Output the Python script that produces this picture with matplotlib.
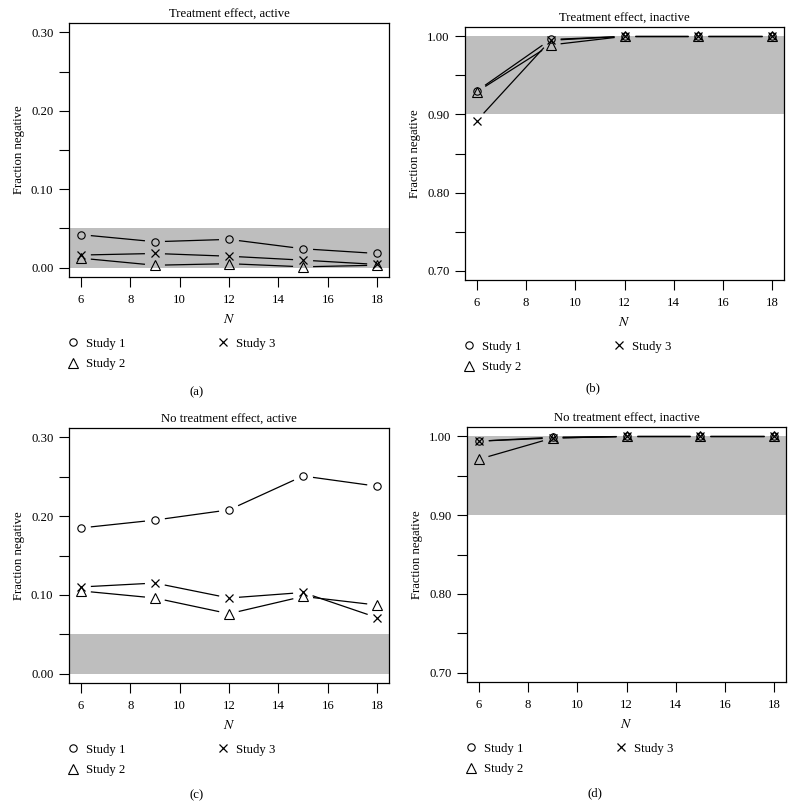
import numpy as np
import matplotlib
matplotlib.use("Agg")
import matplotlib.pyplot as plt
from matplotlib.lines import Line2D

plt.rcParams['font.family'] = ['Liberation Serif', 'DejaVu Serif']
plt.rcParams['mathtext.fontset'] = 'stix'

# ---------------- data ----------------
N = [6, 9, 12, 15, 18]
series_names = ["Study 1", "Study 2", "Study 3"]

# (a) Treatment effect, active
a_study1 = [0.042, 0.033, 0.036, 0.024, 0.018]
a_study2 = [0.012, 0.003, 0.005, 0.001, 0.003]
a_study3 = [0.016, 0.018, 0.0145, 0.0095, 0.004]

# (b) Treatment effect, inactive
b_study1 = [0.930, 0.996, 1.000, 1.000, 1.000]
b_study2 = [0.929, 0.989, 1.000, 1.000, 1.000]
b_study3 = [0.892, 0.995, 1.000, 1.000, 1.000]

# (c) No treatment effect, active
c_study1 = [0.185, 0.195, 0.208, 0.251, 0.238]
c_study2 = [0.105, 0.096, 0.076, 0.098, 0.087]
c_study3 = [0.110, 0.115, 0.096, 0.103, 0.071]

# (d) No treatment effect, inactive
d_study1 = [0.994, 0.999, 1.000, 1.000, 1.000]
d_study2 = [0.971, 0.998, 1.000, 1.000, 1.000]
d_study3 = [0.994, 0.998, 1.000, 1.000, 1.000]

titles = ["Treatment effect, active", "Treatment effect, inactive",
          "No treatment effect, active", "No treatment effect, inactive"]
panel_tags = ["(a)", "(b)", "(c)", "(d)"]

active_yticks = [0.00, 0.05, 0.10, 0.15, 0.20, 0.25, 0.30]
active_ylabels = ["0.00", "", "0.10", "", "0.20", "", "0.30"]
inactive_yticks = [0.70, 0.75, 0.80, 0.85, 0.90, 0.95, 1.00]
inactive_ylabels = ["0.70", "", "0.80", "", "0.90", "", "1.00"]
xticks = [6, 8, 10, 12, 14, 16, 18]

active_band = (0.0, 0.05)
inactive_band = (0.90, 1.00)

# ---------------- layout ----------------
W, H = 795, 807
fig = plt.figure(figsize=(W / 100, H / 100), dpi=100)
FS = 9.2


def px_axes(left, top, right, bottom):
    return fig.add_axes([left / W, 1 - bottom / H, (right - left) / W, (bottom - top) / H])


panels = [
    dict(box=(69, 23, 389, 277), data=(a_study1, a_study2, a_study3),
         yt=active_yticks, yl=active_ylabels, band=active_band, tag_y=392),
    dict(box=(465, 27, 784, 280), data=(b_study1, b_study2, b_study3),
         yt=inactive_yticks, yl=inactive_ylabels, band=inactive_band, tag_y=388),
    dict(box=(69, 428, 389, 683), data=(c_study1, c_study2, c_study3),
         yt=active_yticks, yl=active_ylabels, band=active_band, tag_y=795),
    dict(box=(467, 427, 786, 682), data=(d_study1, d_study2, d_study3),
         yt=inactive_yticks, yl=inactive_ylabels, band=inactive_band, tag_y=793),
]

markers = [dict(marker='o', ms=5.3, mew=0.8),
           dict(marker='^', ms=7.2, mew=0.8),
           dict(marker='x', ms=6.0, mew=0.9)]

GAP = 10.0  # px gap between line ends and point centres (R type="b")


def gapped_line(ax, x, y):
    pts = ax.transData.transform(np.column_stack([x, y]))
    inv = ax.transData.inverted()
    for p0, p1 in zip(pts[:-1], pts[1:]):
        d = p1 - p0
        L = np.hypot(*d)
        if L <= 2 * GAP:
            continue
        u = d / L
        seg = inv.transform(np.array([p0 + u * GAP, p1 - u * GAP]))
        ax.plot(seg[:, 0], seg[:, 1], color='black', lw=0.9,
                solid_capstyle='butt', zorder=3)


for i, p in enumerate(panels):
    l, t, r, b = p['box']
    ax = px_axes(l, t, r, b)
    yt = p['yt']
    yr = yt[-1] - yt[0]
    ax.set_ylim(yt[0] - 0.04 * yr, yt[-1] + 0.04 * yr)
    xr = N[-1] - N[0]
    ax.set_xlim(N[0] - 0.04 * xr, N[-1] + 0.04 * xr)

    ax.axhspan(p['band'][0], p['band'][1], color='#bebebe', lw=0, zorder=1)

    for vals, mk in zip(p['data'], markers):
        gapped_line(ax, N, vals)
        ax.plot(N, vals, linestyle='none', color='black', mfc='none',
                zorder=4, **mk)

    ax.set_yticks(yt)
    ax.set_yticklabels(p['yl'])
    ax.set_xticks(xticks)
    ax.set_xticklabels([str(v) for v in xticks])
    ax.tick_params(axis='both', direction='out', length=7.2, width=0.8,
                   labelsize=FS, color='black')
    ax.tick_params(axis='y', pad=4)
    ax.tick_params(axis='x', pad=5)
    for s in ax.spines.values():
        s.set_linewidth(0.9)
    ax.set_title(titles[i], fontsize=FS, pad=4)
    ax.set_ylabel("Fraction negative", fontsize=FS, labelpad=4)
    ax.set_xlabel("$N$", fontsize=10, labelpad=5)

    handles = [Line2D([], [], linestyle='none', color='black', mfc='none', **mk)
               for mk in markers]
    axh = b - t
    yc = -77.0 / axh
    ax.legend(handles, series_names, ncol=2, loc='center left',
              bbox_to_anchor=(-0.008, yc),
              frameon=False, fontsize=FS, handlelength=1.0, handletextpad=0.55,
              columnspacing=7.1, borderpad=0, borderaxespad=0, labelspacing=0.7)

    fig.text(((l + r) / 2 - 32) / W, 1 - p['tag_y'] / H, panel_tags[i],
             ha='center', va='center', fontsize=FS)

fig.savefig("out.png", dpi=100)
